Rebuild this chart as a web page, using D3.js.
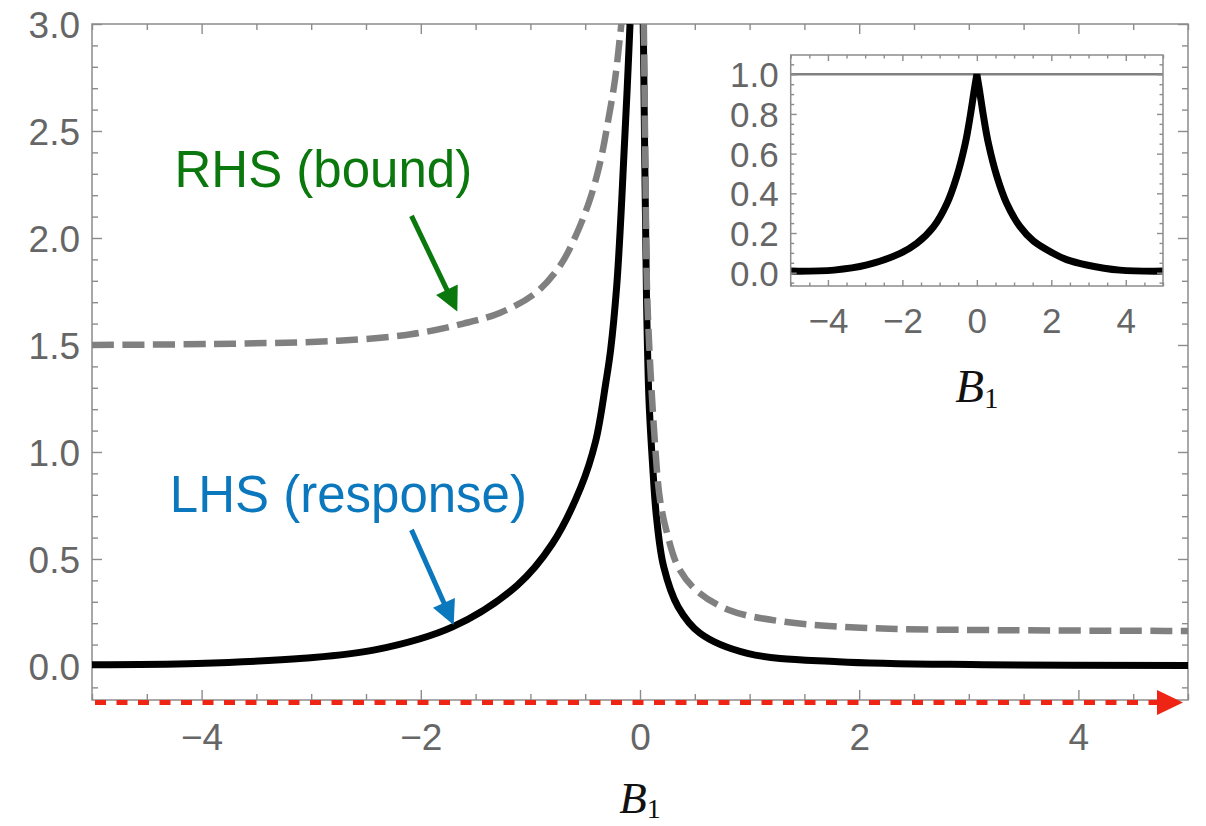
<!DOCTYPE html>
<html lang="en">
<head>
  <meta charset="UTF-8">
  <title>LHS response vs RHS bound</title>
  <script src="https://d3js.org/d3.v7.min.js"></script>
  <style>
    body { margin: 0; background: #fff; }
    svg { display: block; }
    .frame { fill: none; stroke: #8c8c8c; stroke-width: 1.5; }
    .tick line { stroke: #8c8c8c; stroke-width: 1.4; }
    .tick text { fill: #666; font-family: 'Liberation Sans', Arial, Helvetica, sans-serif; }
    .lhs { fill: none; stroke: #000; stroke-width: 7; }
    .rhs { fill: none; stroke: #808080; stroke-width: 6.5; stroke-dasharray: 22 8.5; }
    .axis-title { font-family: 'Liberation Serif', 'DejaVu Serif', Times, serif; fill: #111; }
    .note { font-family: 'Liberation Sans', Arial, Helvetica, sans-serif; font-size: 51px; }
  </style>
</head>
<body>
  <svg width="1206" height="826"></svg>
  <script>
    // LHS (response), black solid, two branches around the pole near B1 = 0
    const lhsLeft = [
      [-5.0, 0.006], [-4.04, 0.012], [-3.07, 0.036], [-2.42, 0.075], [-1.71, 0.183],
      [-1.12, 0.377], [-0.80, 0.571], [-0.54, 0.835], [-0.405, 1.05], [-0.31, 1.33],
      [-0.268, 1.477], [-0.213, 1.772], [-0.176, 2.084], [-0.146, 2.396], [-0.116, 2.707],
      [-0.091, 3.0]
    ];
    const lhsRight = [
      [0.03, 3.0], [0.045, 2.3], [0.06, 1.7], [0.082, 1.243], [0.116, 0.931],
      [0.15, 0.698], [0.216, 0.464], [0.347, 0.277], [0.548, 0.153], [0.98, 0.059],
      [1.81, 0.02], [3.14, 0.006], [5.0, 0.002]
    ];
    // RHS (bound), gray dashed
    const rhsLeft = [
      [-5.0, 1.50], [-3.72, 1.506], [-2.75, 1.52], [-2.09, 1.55], [-1.61, 1.60],
      [-1.28, 1.65], [-0.96, 1.74], [-0.73, 1.87], [-0.578, 2.02], [-0.457, 2.18],
      [-0.365, 2.35], [-0.29, 2.55], [-0.228, 2.74], [-0.183, 2.94], [-0.17, 3.0]
    ];
    const rhsRight = [
      [0.035, 3.0], [0.05, 2.3], [0.067, 1.71], [0.13, 1.09], [0.183, 0.776],
      [0.247, 0.62], [0.347, 0.464], [0.51, 0.355], [0.81, 0.262], [1.31, 0.207],
      [2.14, 0.176], [3.14, 0.168], [4.8, 0.164], [5.0, 0.164]
    ];
    // inset: ratio, with reference level 1
    const insetLeft = [
      [-5.0, 0.008], [-3.84, 0.013], [-2.95, 0.039], [-2.06, 0.097], [-1.61, 0.148],
      [-1.16, 0.232], [-0.80, 0.35], [-0.54, 0.484], [-0.31, 0.652], [-0.18, 0.787],
      [-0.07, 0.92], [0, 1.0]
    ];
    const insetRight = [
      [0, 1.0], [0.07, 0.92], [0.18, 0.787], [0.31, 0.652], [0.54, 0.484],
      [0.80, 0.35], [1.16, 0.232], [1.52, 0.16], [2.06, 0.097], [2.41, 0.066],
      [2.95, 0.039], [3.84, 0.013], [5.0, 0.008]
    ];
    const insetLevel = 1.0;

    const xMajor = [-4, -2, 0, 2, 4];
    const xMinor = d3.range(-5, 5.01, 0.5).filter(v => Math.abs(v % 2) > 1e-9);
    const yMajor = [0, 0.5, 1.0, 1.5, 2.0, 2.5, 3.0];
    const yMinor = d3.range(-0.1, 3.0, 0.1).filter(v => Math.abs(Math.round(v * 2) - v * 2) > 1e-6);
    const insetYMajor = [0, 0.2, 0.4, 0.6, 0.8, 1.0];
    const insetYMinor = d3.range(-0.05, 1.1, 0.05).filter(v => Math.abs(Math.round(v * 5) - v * 5) > 1e-6);

    const notes = [
      { text: "RHS (bound)", color: "#0a780d", at: [-4.247, 2.24], from: [-2.085, 2.103], to: [-1.667, 1.657] },
      { text: "LHS (response)", color: "#0b77bd", at: [-4.29, 0.721], from: [-2.085, 0.636], to: [-1.70, 0.192] }
    ];

    const svg = d3.select("svg");

    const x = d3.scaleLinear().domain([-5, 5]).range([92, 1188]);
    const y = d3.scaleLinear().domain([-0.159, 3.0]).range([700, 24]);

    const ix = d3.scaleLinear().domain([-5, 5]).range([790.7, 1163]);
    const iy = d3.scaleLinear().domain([-0.067, 1.097]).range([286, 55]);

    function frame(g, xs, ys, o) {
      const [x0, x1] = xs.range();
      const [y0, y1] = ys.range();
      const fmt = d3.format(".1f");
      const strip = sel => sel.select(".domain").remove();

      // bottom + top
      g.append("g").attr("transform", `translate(0,${y0})`)
        .call(d3.axisBottom(xs).tickValues(o.xMajor).tickSizeInner(-o.major).tickSizeOuter(0)
          .tickFormat(d3.format("d")))
        .call(strip)
        .call(s => s.selectAll("text").attr("y", o.xPad).attr("dy", 0)
          .style("font-size", o.font + "px"));
      g.append("g").attr("transform", `translate(0,${y0})`)
        .call(d3.axisBottom(xs).tickValues(o.xMinor).tickSizeInner(-o.minor).tickSizeOuter(0).tickFormat(""))
        .call(strip);
      g.append("g").attr("transform", `translate(0,${y1})`)
        .call(d3.axisTop(xs).tickValues(o.xMajor).tickSizeInner(-o.major).tickSizeOuter(0).tickFormat(""))
        .call(strip);
      g.append("g").attr("transform", `translate(0,${y1})`)
        .call(d3.axisTop(xs).tickValues(o.xMinor).tickSizeInner(-o.minor).tickSizeOuter(0).tickFormat(""))
        .call(strip);

      // left + right
      g.append("g").attr("transform", `translate(${x0},0)`)
        .call(d3.axisLeft(ys).tickValues(o.yMajor).tickSizeInner(-o.major).tickSizeOuter(0).tickFormat(fmt))
        .call(strip)
        .call(s => s.selectAll("text").attr("x", -o.yPad).attr("dy", "0.36em")
          .style("font-size", o.font + "px"));
      g.append("g").attr("transform", `translate(${x0},0)`)
        .call(d3.axisLeft(ys).tickValues(o.yMinor).tickSizeInner(-o.minor).tickSizeOuter(0).tickFormat(""))
        .call(strip);
      g.append("g").attr("transform", `translate(${x1},0)`)
        .call(d3.axisRight(ys).tickValues(o.yMajor).tickSizeInner(-o.major).tickSizeOuter(0).tickFormat(""))
        .call(strip);
      g.append("g").attr("transform", `translate(${x1},0)`)
        .call(d3.axisRight(ys).tickValues(o.yMinor).tickSizeInner(-o.minor).tickSizeOuter(0).tickFormat(""))
        .call(strip);

      g.append("rect").attr("class", "frame")
        .attr("x", x0).attr("y", y1).attr("width", x1 - x0).attr("height", y0 - y1);
    }

    // ---- main plot ----
    const main = svg.append("g");
    svg.append("clipPath").attr("id", "clipMain").append("rect")
      .attr("x", 92).attr("y", 24).attr("width", 1096).attr("height", 676);

    frame(main, x, y, { xMajor, xMinor, yMajor, yMinor, major: 10, minor: 6, font: 37, xPad: 50, yPad: 12 });

    const line = d3.line().x(d => x(d[0])).y(d => y(d[1])).curve(d3.curveCatmullRom.alpha(0.5));
    const curves = main.append("g").attr("clip-path", "url(#clipMain)");
    [lhsLeft, lhsRight].forEach(d => curves.append("path").attr("class", "lhs").attr("d", line(d)));
    [rhsLeft, rhsRight].forEach(d => curves.append("path").attr("class", "rhs").attr("d", line(d)));

    // red arrow along the B1 axis
    const ry = y.range()[0] + 2.5;
    const xEnd = x(5) - 5;
    main.append("line")
      .attr("x1", x(-5) + 3).attr("x2", xEnd - 24).attr("y1", ry).attr("y2", ry)
      .attr("stroke", "#ee2414").attr("stroke-width", 5).attr("stroke-dasharray", "11 10.5");
    main.append("path")
      .attr("d", `M${xEnd},${ry} L${xEnd - 26},${ry - 12.5} L${xEnd - 26},${ry + 12.5} Z`)
      .attr("fill", "#ee2414");

    // axis title
    const t = main.append("text").attr("class", "axis-title")
      .attr("x", x(0)).attr("y", 813).attr("text-anchor", "middle");
    t.append("tspan").text("B").attr("font-style", "italic").attr("font-size", 45);
    t.append("tspan").text("1").attr("font-size", 28).attr("dy", 5);

    // annotations
    notes.forEach(n => {
      main.append("text").attr("class", "note").attr("fill", n.color)
        .attr("x", x(n.at[0])).attr("y", y(n.at[1])).text(n.text);
      const x1 = x(n.from[0]), y1 = y(n.from[1]), x2 = x(n.to[0]), y2 = y(n.to[1]);
      const len = Math.hypot(x2 - x1, y2 - y1), ux = (x2 - x1) / len, uy = (y2 - y1) / len;
      const head = 24, half = 12;
      const bx = x2 - ux * head, by = y2 - uy * head;
      main.append("line").attr("x1", x1).attr("y1", y1).attr("x2", bx + ux * 2).attr("y2", by + uy * 2)
        .attr("stroke", n.color).attr("stroke-width", 5);
      main.append("path")
        .attr("d", `M${x2},${y2} L${bx - uy * half},${by + ux * half} L${bx + uy * half},${by - ux * half} Z`)
        .attr("fill", n.color);
    });

    // ---- inset ----
    const inset = svg.append("g");
    inset.append("rect").attr("x", 790.7).attr("y", 55).attr("width", 372.3).attr("height", 231).attr("fill", "#fff");
    svg.append("clipPath").attr("id", "clipInset").append("rect")
      .attr("x", 790.7).attr("y", 55).attr("width", 372.3).attr("height", 231);

    const iline = d3.line().x(d => ix(d[0])).y(d => iy(d[1])).curve(d3.curveCatmullRom.alpha(0.5));
    const ic = inset.append("g").attr("clip-path", "url(#clipInset)");
    ic.append("line")
      .attr("x1", ix(-5)).attr("x2", ix(5)).attr("y1", iy(insetLevel)).attr("y2", iy(insetLevel))
      .attr("stroke", "#808080").attr("stroke-width", 2.5);
    ic.append("path").attr("class", "lhs").attr("stroke-width", 6.5)
      .attr("stroke-linejoin", "miter").attr("stroke-miterlimit", 3)
      .attr("d", iline(insetLeft) + iline(insetRight).replace(/^M[^LC]*/, ""));

    frame(inset, ix, iy, {
      xMajor, xMinor, yMajor: insetYMajor, yMinor: insetYMinor,
      major: 6, minor: 3.5, font: 35, xPad: 47, yPad: 12
    });

    const it = inset.append("text").attr("class", "axis-title")
      .attr("x", ix(0)).attr("y", 402).attr("text-anchor", "middle");
    it.append("tspan").text("B").attr("font-style", "italic").attr("font-size", 47);
    it.append("tspan").text("1").attr("font-size", 29).attr("dy", 6);
  </script>
</body>
</html>
